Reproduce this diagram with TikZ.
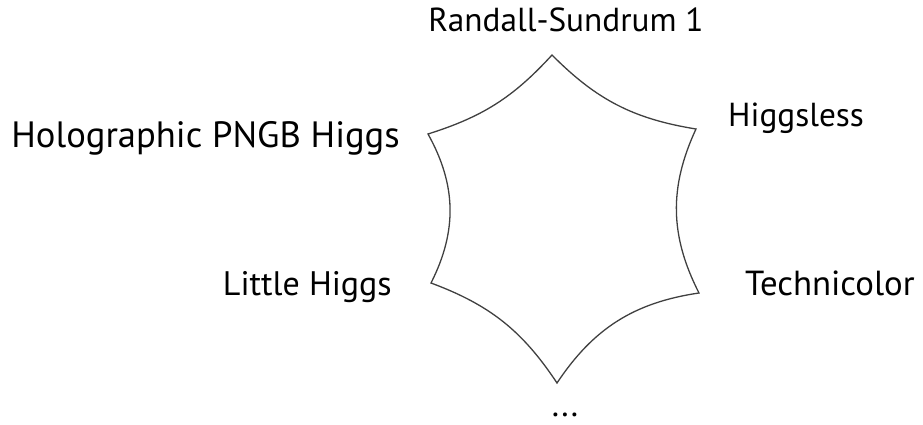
\documentclass[tikz,border=0pt]{standalone}
\usepackage{fontspec}
\setmainfont{PT Sans}
\begin{document}
\begin{tikzpicture}[x=1pt,y=-1pt,
  lbl/.style={inner sep=0pt,font=\fontsize{34}{40}\selectfont,text=black},
  edge/.style={draw=black!75,line width=1.3pt}]
\useasboundingbox (0,0) rectangle (923,425);
\coordinate (T) at (552,55);
\coordinate (UR) at (696,129);
\coordinate (LR) at (699,293);
\coordinate (B) at (557,383);
\coordinate (LL) at (431,283);
\coordinate (UL) at (428,134);
\draw[edge] (T) to[bend right=18] (UR) to[bend right=26] (LR) to[bend right=24] (B)
  to[bend right=18] (LL) to[bend right=28] (UL) to[bend right=15] (T) -- cycle;
\node[lbl,anchor=base,font=\fontsize{33.3}{40}\selectfont] (rs) at (566,32) {Randall-Sundrum 1};
\node[lbl,anchor=base east,font=\fontsize{36.6}{44}\selectfont] (hp) at (400,147) {Holographic PNGB Higgs};
\node[lbl,anchor=base west,font=\fontsize{33.3}{40}\selectfont] (hl) at (728,127) {Higgsless};
\node[lbl,anchor=base east] (lh) at (392,295) {Little Higgs};
\node[lbl,anchor=base west,font=\fontsize{34.8}{42}\selectfont] (tc) at (745,295) {Technicolor};
\node[lbl,anchor=base] (dots) at (565,416) {...};
\end{tikzpicture}
\end{document}
